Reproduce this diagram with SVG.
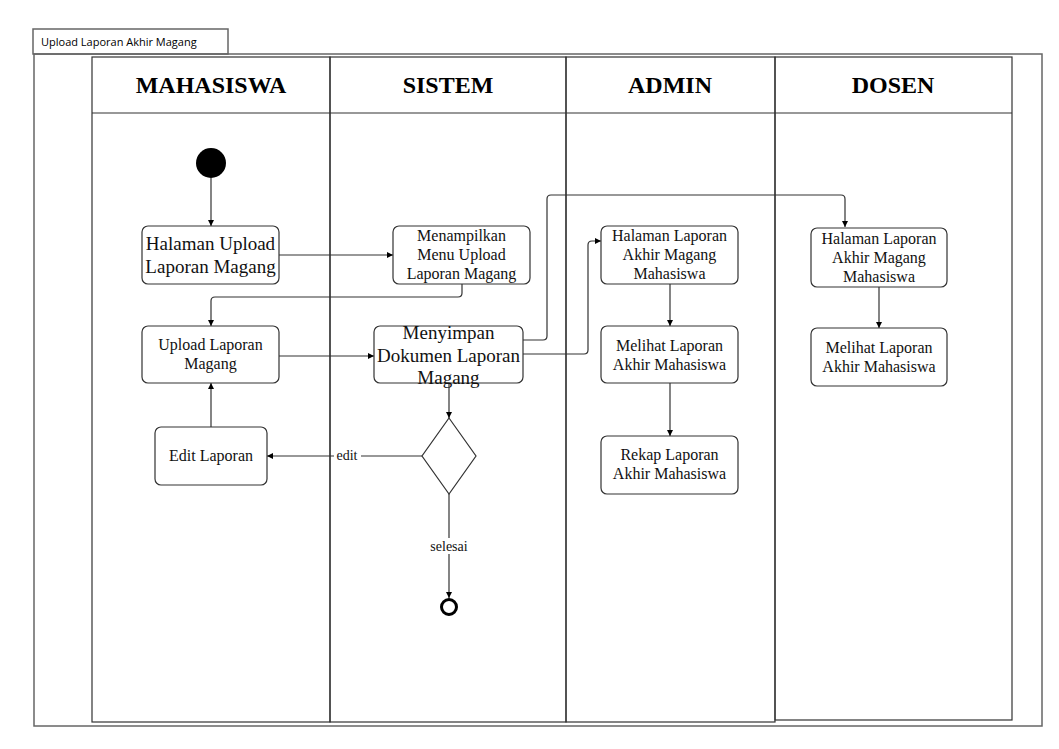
<svg xmlns="http://www.w3.org/2000/svg" width="1059" height="749" viewBox="0 0 1059 749">
<defs>
<marker id="arr" viewBox="0 0 10 10" refX="10" refY="5" markerWidth="6" markerHeight="6" orient="auto" markerUnits="userSpaceOnUse">
<path d="M0,0 L10,5 L0,10 z" fill="#000"/>
</marker>
</defs>
<style>
.frame{fill:none;stroke:#666;stroke-width:1.5}
.lane{fill:none;stroke:#333;stroke-width:1.2}
.hdr{font-family:"Liberation Serif",serif;font-weight:bold;font-size:24px;text-anchor:middle;fill:#000}
.node{fill:#fff;stroke:#333;stroke-width:1.2}
.t{font-family:"Liberation Serif",serif;font-size:16px;text-anchor:middle;fill:#111}
.tb{font-family:"Liberation Serif",serif;font-size:19px;text-anchor:middle;fill:#111}
.c{fill:none;stroke:#333;stroke-width:1.2;marker-end:url(#arr)}
.lbl{font-family:"Liberation Serif",serif;font-size:14px;text-anchor:middle;fill:#111}
</style>
<rect width="1059" height="749" fill="#fff"/>
<g id="frame">
<rect x="33" y="29" width="195" height="25" class="frame"/>
<text x="41" y="46" font-family="'Open Sans','Liberation Sans',sans-serif" font-size="11" fill="#000">Upload Laporan Akhir Magang</text>
<rect x="34" y="54" width="1008" height="672" class="frame"/>
</g>
<g id="lanes">
<rect x="92" y="57" width="238" height="665" class="lane"/>
<rect x="330" y="57" width="236" height="665" class="lane"/>
<rect x="566" y="57" width="209" height="665" class="lane"/>
<rect x="775" y="57" width="237" height="663" class="lane"/>
<line x1="92" y1="113" x2="1012" y2="113" class="lane"/>
<text x="211" y="93" class="hdr">MAHASISWA</text>
<text x="448" y="93" class="hdr">SISTEM</text>
<text x="670" y="93" class="hdr">ADMIN</text>
<text x="893" y="93" class="hdr">DOSEN</text>
</g>
<g id="connectors">
<line x1="211" y1="178" x2="211" y2="226" class="c"/>
<line x1="279" y1="255" x2="393" y2="255" class="c"/>
<path d="M462,284 V293 Q462,297 458,297 H215 Q211,297 211,301 V326" class="c"/>
<line x1="279" y1="356" x2="374" y2="356" class="c"/>
<line x1="449" y1="383" x2="449" y2="418" class="c"/>
<line x1="422" y1="456" x2="267" y2="456" class="c"/>
<line x1="211" y1="427" x2="211" y2="383" class="c"/>
<line x1="449" y1="494" x2="449" y2="598" class="c"/>
<path d="M523,340 H543 Q547,340 547,336 V199 Q547,195 551,195 H841 Q845,195 845,199 V227" class="c"/>
<path d="M523,354 H584 Q588,354 588,350 V245 Q588,241 592,241 H601" class="c"/>
<line x1="670" y1="284" x2="670" y2="326" class="c"/>
<line x1="670" y1="383" x2="670" y2="436" class="c"/>
<line x1="879" y1="287" x2="879" y2="328" class="c"/>
<rect x="334" y="449" width="27" height="14" fill="#fff"/>
<text x="347" y="460" class="lbl">edit</text>
<rect x="428" y="538" width="42" height="16" fill="#fff"/>
<text x="449" y="551" class="lbl">selesai</text>
</g>
<g id="start"><circle cx="211" cy="163" r="15" fill="#000"/></g>
<g id="n1"><rect x="142" y="226" width="137" height="58" rx="6" class="node"/>
<text x="210.5" y="250" class="tb">Halaman Upload</text><text x="210.5" y="273" class="tb">Laporan Magang</text></g>
<g id="n2"><rect x="393" y="226" width="137" height="58" rx="6" class="node"/>
<text x="461.5" y="241" class="t">Menampilkan</text><text x="461.5" y="260" class="t">Menu Upload</text><text x="461.5" y="279" class="t">Laporan Magang</text></g>
<g id="n3"><rect x="142" y="326" width="137" height="57" rx="6" class="node"/>
<text x="210.5" y="350" class="t">Upload Laporan</text><text x="210.5" y="369" class="t">Magang</text></g>
<g id="n4"><rect x="374" y="326" width="149" height="57" rx="6" class="node"/>
<text x="448.5" y="339" class="tb">Menyimpan</text><text x="448.5" y="362" class="tb">Dokumen Laporan</text><text x="448.5" y="384" class="tb">Magang</text></g>
<g id="decision"><path d="M449,418 L476,456 L449,494 L422,456 Z" class="node"/></g>
<g id="n5"><rect x="155" y="427" width="112" height="58" rx="6" class="node"/>
<text x="211" y="461" class="t">Edit Laporan</text></g>
<g id="end"><circle cx="449" cy="607" r="7.5" fill="#fff" stroke="#000" stroke-width="3"/></g>
<g id="n6"><rect x="601" y="226" width="137" height="58" rx="6" class="node"/>
<text x="669.5" y="241" class="t">Halaman Laporan</text><text x="669.5" y="260" class="t">Akhir Magang</text><text x="669.5" y="279" class="t">Mahasiswa</text></g>
<g id="n7"><rect x="601" y="326" width="137" height="57" rx="6" class="node"/>
<text x="669.5" y="351" class="t">Melihat Laporan</text><text x="669.5" y="370" class="t">Akhir Mahasiswa</text></g>
<g id="n8"><rect x="601" y="436" width="137" height="58" rx="6" class="node"/>
<text x="669.5" y="460" class="t">Rekap Laporan</text><text x="669.5" y="479" class="t">Akhir Mahasiswa</text></g>
<g id="n9"><rect x="811" y="228" width="136" height="59" rx="6" class="node"/>
<text x="879" y="244" class="t">Halaman Laporan</text><text x="879" y="263" class="t">Akhir Magang</text><text x="879" y="282" class="t">Mahasiswa</text></g>
<g id="n10"><rect x="811" y="328" width="136" height="58" rx="6" class="node"/>
<text x="879" y="353" class="t">Melihat Laporan</text><text x="879" y="372" class="t">Akhir Mahasiswa</text></g>
</svg>
